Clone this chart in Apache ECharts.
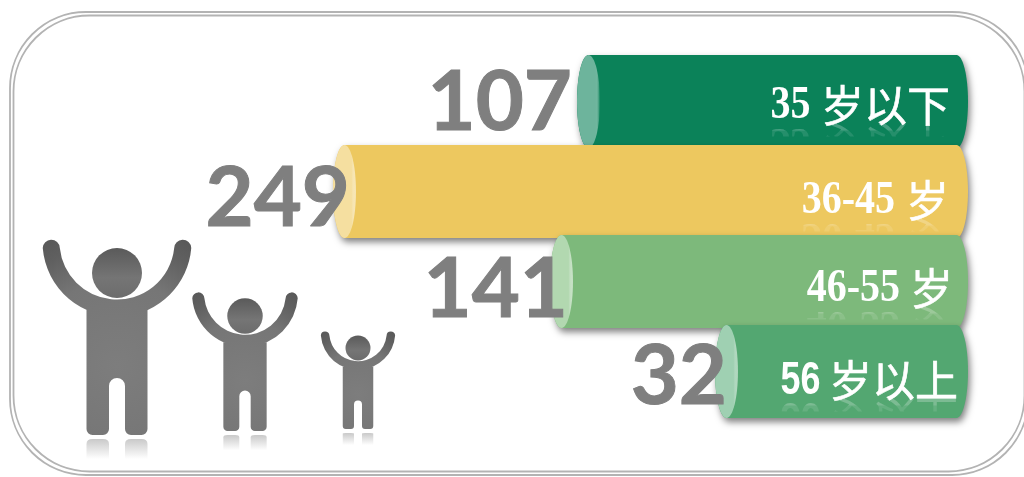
<!DOCTYPE html>
<html>
<head>
<meta charset="utf-8">
<title>年龄结构</title>
<script src="https://cdn.jsdelivr.net/npm/echarts@6/dist/echarts.min.js"></script>
<style>
html, body { margin: 0; padding: 0; background: #fff; }
#main { width: 1024px; height: 477px; }
</style>
</head>
<body>
<div id="main"></div>
<script>
var ageLabels = ['35 岁以下', '36-45 岁', '46-55 岁', '56 岁以上'];
var peopleCounts = [107, 249, 141, 32];
// the bars in the picture are not proportional to the printed numbers, so the drawn lengths are read separately
var barLengths = [391, 635, 418, 253];
var barColors = ['#0b8259', '#edc85f', '#7db97b', '#53a771'];
var faceColors = ['#6db49c', '#f5dfa0', '#b2d8b0', '#9fd0b2'];

var myChart = echarts.init(document.getElementById('main'));

// small per-row nudges for the text, it is not centred in the original
var numberShift = [[-5, 2], [17, 8], [18, 9], [12, 6]];
var labelRight = [950, 949, 953, 958];
var labelShift = [4, 9, 7, 9];
var labelGap = [12, 11.5, 10.5, 10];
var labelSerif = [true, true, true, false];
var faceGlow = [0, 0.5, 0.55, 0.5];

// white label in two parts, digits are narrower than the font so they get a scaleX
function labelParts(i, y, flip) {
    var m = ageLabels[i].match(/^([\d-]+)\s*(.*)$/);
    var cjkWidth = m[2].length * 42.5;
    var digitY = y + 1;
    var mirror = digitY + 17;
    var out = [];
    function add(text, x, cy, font, extra) {
        var base = {
            type: 'text',
            x: x,
            y: cy,
            scaleX: extra.scaleX || 1,
            style: {
                text: text,
                fontFamily: font,
                fontWeight: extra.weight,
                fontSize: extra.size,
                fill: '#fff',
                align: 'right',
                verticalAlign: 'middle',
                opacity: 1
            }
        };
        if (!flip) {
            base.style.stroke = '#fff';
            base.style.lineWidth = extra.stroke;
            base.style.shadowBlur = 2;
            base.style.shadowColor = 'rgba(0,0,0,0.3)';
            out.push(base);
            return;
        }
        // mirrored copies, two clip heights make the fade
        var dm = mirror - cy;
        [[13, 0.11], [7, 0.15]].forEach(function (layer) {
            out.push({
                type: 'text',
                x: x,
                y: mirror + dm,
                scaleX: base.scaleX,
                scaleY: -1,
                style: {
                    text: text,
                    fontFamily: font,
                    fontWeight: extra.weight,
                    fontSize: extra.size,
                    fill: '#fff',
                    align: 'right',
                    verticalAlign: 'middle',
                    opacity: layer[1]
                },
                clipPath: {
                    type: 'rect',
                    shape: { x: -400, y: dm - layer[0], width: 800, height: layer[0] }
                }
            });
        });
    }
    add(m[2], labelRight[i], y, 'Noto Sans CJK SC', { size: 43, stroke: 0.6 });
    add(m[1], labelRight[i] - cjkWidth - labelGap[i], digitY,
        labelSerif[i] ? 'Liberation Serif' : 'Liberation Sans',
        { size: 46, weight: 'bold', scaleX: labelSerif[i] ? 0.87 : 0.78, stroke: 0 });
    return out;
}

function renderBar(params, api) {
    var i = api.value(0);
    var tip = api.coord([api.value(1), i]);
    var base = api.coord([0, i]);
    var h = api.size([0, 1])[1] + 3;
    var top = tip[1] - h / 2;
    var bot = tip[1] + h / 2;
    var l = tip[0];
    var r = base[0];
    var rx = 11.5;
    var k = 0.55 * rx;
    var mid = tip[1];
    var d = 'M' + (l + rx) + ' ' + top + 'L' + (r - rx) + ' ' + top +
        'C' + (r - rx + k) + ' ' + top + ' ' + r + ' ' + (mid - h * 0.28) + ' ' + r + ' ' + mid +
        'C' + r + ' ' + (mid + h * 0.28) + ' ' + (r - rx + k) + ' ' + bot + ' ' + (r - rx) + ' ' + bot +
        'L' + (l + rx) + ' ' + bot +
        'C' + (l + rx - k) + ' ' + bot + ' ' + l + ' ' + (mid + h * 0.28) + ' ' + l + ' ' + mid +
        'C' + l + ' ' + (mid - h * 0.28) + ' ' + (l + rx - k) + ' ' + top + ' ' + (l + rx) + ' ' + top + 'Z';
    var y = mid + labelShift[i];
    return {
        type: 'group',
        children: [
            {
                type: 'path',
                shape: { pathData: d },
                style: {
                    fill: barColors[i],
                    shadowBlur: 7,
                    shadowOffsetX: 2,
                    shadowOffsetY: 4,
                    shadowColor: 'rgba(0,0,0,0.5)'
                }
            },
            {
                type: 'ellipse',
                shape: { cx: l + rx, cy: mid, rx: rx, ry: h / 2 },
                style: {
                    fill: {
                        type: 'linear', x: 0, y: 0, x2: 1, y2: 0,
                        colorStops: [
                            { offset: 0, color: faceColors[i] },
                            { offset: 0.8, color: faceColors[i] },
                            { offset: 1, color: 'rgba(255,255,255,' + faceGlow[i] + ')' }
                        ]
                    }
                }
            }
        ].concat(labelParts(i, y, true), labelParts(i, y, false))
    };
}

function renderNumber(params, api) {
    var i = api.value(0);
    var tip = api.coord([api.value(1), i]);
    return {
        type: 'text',
        x: tip[0] + numberShift[i][0],
        y: tip[1] + numberShift[i][1],
        z2: 10,
        style: {
            text: String(peopleCounts[i]),
            fontFamily: 'Lato',
            fontWeight: 'bold',
            fontSize: 83,
            fill: '#7f7f7f',
            stroke: '#7f7f7f',
            lineWidth: 1,
            align: 'right',
            verticalAlign: 'middle'
        }
    };
}

// one figure: raised arms and body, s=1 is the tall one
function personArms(cx, by, s) {
    function X(v) { return cx + v * s; }
    function Y(v) { return by + v * s; }
    var ro = 74.5 * s, ri = 57.5 * s, cap = 8.54 * s;
    return 'M' + X(-74.26) + ' ' + Y(-187) +
        'A' + ro + ' ' + ro + ' 0 0 0 ' + X(74.26) + ' ' + Y(-187) +
        'A' + cap + ' ' + cap + ' 0 0 0 ' + X(57.19) + ' ' + Y(-187) +
        'A' + ri + ' ' + ri + ' 0 0 1 ' + X(-57.19) + ' ' + Y(-187) +
        'A' + cap + ' ' + cap + ' 0 0 0 ' + X(-74.26) + ' ' + Y(-187) + 'Z';
}

function personBody(cx, by, s) {
    function X(v) { return cx + v * s; }
    function Y(v) { return by + v * s; }
    var f = 6 * s;
    return 'M' + X(-30.5) + ' ' + Y(-125) + 'L' + X(30.5) + ' ' + Y(-125) +
        'L' + X(30.5) + ' ' + Y(-6) + 'A' + f + ' ' + f + ' 0 0 1 ' + X(24.5) + ' ' + Y(0) +
        'L' + X(14) + ' ' + Y(0) + 'A' + f + ' ' + f + ' 0 0 1 ' + X(8) + ' ' + Y(-6) +
        'L' + X(8) + ' ' + Y(-49) + 'A' + (8 * s) + ' ' + (8 * s) + ' 0 0 0 ' + X(-8) + ' ' + Y(-49) +
        'L' + X(-8) + ' ' + Y(-6) + 'A' + f + ' ' + f + ' 0 0 1 ' + X(-14) + ' ' + Y(0) +
        'L' + X(-24.5) + ' ' + Y(0) + 'A' + f + ' ' + f + ' 0 0 1 ' + X(-30.5) + ' ' + Y(-6) + 'Z';
}

function person(cx, by, s) {
    var list = [];
    var shine = {
        type: 'linear', x: 0, y: 0, x2: 0, y2: 1,
        colorStops: [
            { offset: 0, color: 'rgba(120,120,120,0.4)' },
            { offset: 1, color: 'rgba(120,120,120,0)' }
        ]
    };
    var skin = {
        type: 'radial', global: true, x: cx, y: by - 70 * s, r: 170 * s,
        colorStops: [
            { offset: 0, color: '#7d7d7d' },
            { offset: 0.5, color: '#767676' },
            { offset: 0.72, color: '#606060' },
            { offset: 1, color: '#4f4f4f' }
        ]
    };
    [[-30.5, -8], [8, 30.5]].forEach(function (leg) {
        list.push({
            type: 'path',
            shape: {
                pathData: 'M' + (cx + leg[0] * s) + ' ' + (by + 16 * s + 8) + 'L' + (cx + leg[0] * s) + ' ' + (by + 9 * s) +
                    'Q' + (cx + leg[0] * s) + ' ' + (by + 4) + ' ' + (cx + (leg[0] + 6) * s) + ' ' + (by + 4) +
                    'L' + (cx + (leg[1] - 6) * s) + ' ' + (by + 4) +
                    'Q' + (cx + leg[1] * s) + ' ' + (by + 4) + ' ' + (cx + leg[1] * s) + ' ' + (by + 9 * s) +
                    'L' + (cx + leg[1] * s) + ' ' + (by + 16 * s + 8) + 'Z'
            },
            style: { fill: shine }
        });
    });
    list.push({ type: 'path', shape: { pathData: personArms(cx, by, s) }, style: { fill: skin } });
    list.push({ type: 'path', shape: { pathData: personBody(cx, by, s) }, style: { fill: skin } });
    list.push({
        type: 'circle',
        shape: { cx: cx, cy: by - 162 * s, r: 25 * s },
        style: {
            fill: {
                type: 'linear', x: 0, y: 0, x2: 0, y2: 1,
                colorStops: [
                    { offset: 0, color: '#5a5a5a' },
                    { offset: 0.6, color: '#757575' },
                    { offset: 1, color: '#6c6c6c' }
                ]
            }
        }
    });
    return list;
}

function renderPeople() {
    return {
        type: 'group',
        children: person(117, 435, 1).concat(person(245, 431, 0.71), person(358, 429, 0.5))
    };
}

function frame(x, y, w, h) {
    return {
        type: 'rect',
        shape: { x: x, y: y, width: w, height: h, r: 76 },
        style: { fill: 'none', stroke: '#b3b3b3', lineWidth: 1.8 }
    };
}

var seriesData = ageLabels.map(function (name, i) {
    return [i, barLengths[i]];
});

var option = {
    backgroundColor: '#fff',
    animation: false,
    grid: { left: 0, right: 56, top: 56.5, height: 360 },
    xAxis: { type: 'value', inverse: true, min: 0, max: 968, show: false },
    yAxis: { type: 'category', inverse: true, data: ageLabels, show: false },
    graphic: {
        elements: [frame(10, 12, 1018, 463), frame(13.5, 15.5, 1011, 456)]
    },
    series: [
        {
            type: 'custom',
            renderItem: renderPeople,
            data: [[0, 0]],
            silent: true,
            clip: false,
            z: 1
        },
        {
            type: 'custom',
            renderItem: renderBar,
            encode: { x: 1, y: 0 },
            data: seriesData,
            clip: false,
            z: 2
        },
        {
            type: 'custom',
            renderItem: renderNumber,
            encode: { x: 1, y: 0 },
            data: seriesData,
            clip: false,
            z: 3
        }
    ]
};

myChart.setOption(option);
</script>
</body>
</html>
